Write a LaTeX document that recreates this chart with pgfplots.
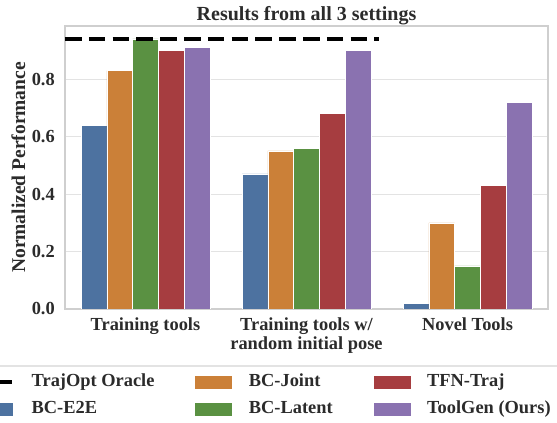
\documentclass[border=0pt]{standalone}
\usepackage{pgfplots}
\pgfplotsset{compat=1.18}
\usepackage{fontspec}
\setmainfont{Liberation Serif}
\definecolor{cE2E}{HTML}{4D72A0}
\definecolor{cJoint}{HTML}{CB8038}
\definecolor{cLatent}{HTML}{5A9142}
\definecolor{cTFN}{HTML}{A63D40}
\definecolor{cGen}{HTML}{8A72B0}
\definecolor{textc}{HTML}{2B2B2B}
\definecolor{gridc}{HTML}{E3E3E3}
\definecolor{framec}{HTML}{CFCFCF}
\newcommand\lblfont{\fontsize{18.4}{19.5}\selectfont\bfseries}
\begin{document}
\begin{tikzpicture}
\useasboundingbox (0,0) rectangle (557pt,423pt);
\clip (0,0) rectangle (557pt,423pt);
\begin{axis}[
  at={(65pt,114pt)}, anchor=south west,
  scale only axis, width=483pt, height=283pt,
  xmin=-0.5, xmax=2.5, ymin=0, ymax=0.985,
  xtick={0,1,2},
  xticklabels={Training tools, {Training tools w/\\random initial pose}, Novel Tools},
  ytick={0,0.2,0.4,0.6,0.8},
  major tick length=0pt,
  /pgf/number format/.cd, fixed, fixed zerofill, precision=1, assume math mode=true,
  /pgfplots/.cd,
  ymajorgrids,
  grid style={gridc, line width=1pt},
  axis line style={framec, line width=1.2pt},
  tick label style={font=\lblfont, text=textc},
  yticklabel style={anchor=east, inner sep=0pt, xshift=-10pt},
  xticklabel style={anchor=north, inner sep=0pt, yshift=-8.5pt, align=center},
  title={Results from all 3 settings},
  title style={at={(axis description cs:0.5,1)}, anchor=base, yshift=-1pt, inner sep=0pt, font=\fontsize{20}{24}\selectfont\bfseries, text=textc},
  ylabel={Normalized Performance},
  ylabel style={at={(axis description cs:-0.0828,0.5)}, anchor=base, rotate=0, inner sep=0pt, font=\fontsize{19.5}{22}\selectfont\bfseries, text=textc},
  legend cell align=left,
  legend columns=3,
  legend style={at={(axis description cs:-0.205,-0.2085)}, anchor=north west,
    draw=none, fill=white,
    inner xsep=8pt, inner ysep=5.5pt, row sep=10pt,
    nodes={inner sep=0pt, text height=13pt, text depth=4pt, anchor=west},
    font=\lblfont, text=textc,
    /tikz/every even column/.append style={column sep=41pt},
    /tikz/every odd column/.append style={column sep=17pt}},
  after end axis/.code={\draw[gridc, line width=1.2pt] (axis description cs:-0.25,-0.2014) -- (axis description cs:1.25,-0.2014);},
]
\addplot[ybar, bar width=0.16, bar shift=-0.32, fill=cE2E, draw=white, line width=0.6pt, forget plot] coordinates {(0,0.64) (1,0.47) (2,0.02)};
\addplot[ybar, bar width=0.16, bar shift=-0.16, fill=cJoint, draw=white, line width=0.6pt, forget plot] coordinates {(0,0.83) (1,0.55) (2,0.30)};
\addplot[ybar, bar width=0.16, bar shift=0, fill=cLatent, draw=white, line width=0.6pt, forget plot] coordinates {(0,0.94) (1,0.56) (2,0.15)};
\addplot[ybar, bar width=0.16, bar shift=0.16, fill=cTFN, draw=white, line width=0.6pt, forget plot] coordinates {(0,0.90) (1,0.68) (2,0.43)};
\addplot[ybar, bar width=0.16, bar shift=0.32, fill=cGen, draw=white, line width=0.6pt, forget plot] coordinates {(0,0.91) (1,0.90) (2,0.72)};
\addplot[black, line width=4.5pt, dash pattern=on 16.6pt off 7.2pt, line cap=butt, forget plot] coordinates {(-0.5,0.94) (1.45,0.94)};
\addlegendimage{legend image code/.code={\draw[black, line width=4.5pt] (0pt,0pt) -- (36pt,0pt);}}
\addlegendentry{TrajOpt Oracle}
\addlegendimage{legend image code/.code={\fill[cJoint] (0pt,-6.4pt) rectangle (36pt,6.4pt);}}
\addlegendentry{BC-Joint}
\addlegendimage{legend image code/.code={\fill[cTFN] (0pt,-6.4pt) rectangle (36pt,6.4pt);}}
\addlegendentry{TFN-Traj}
\addlegendimage{legend image code/.code={\fill[cE2E] (0pt,-6.4pt) rectangle (36pt,6.4pt);}}
\addlegendentry{BC-E2E}
\addlegendimage{legend image code/.code={\fill[cLatent] (0pt,-6.4pt) rectangle (36pt,6.4pt);}}
\addlegendentry{BC-Latent}
\addlegendimage{legend image code/.code={\fill[cGen] (0pt,-6.4pt) rectangle (36pt,6.4pt);}}
\addlegendentry{ToolGen (Ours)}
\end{axis}
\end{tikzpicture}
\end{document}
